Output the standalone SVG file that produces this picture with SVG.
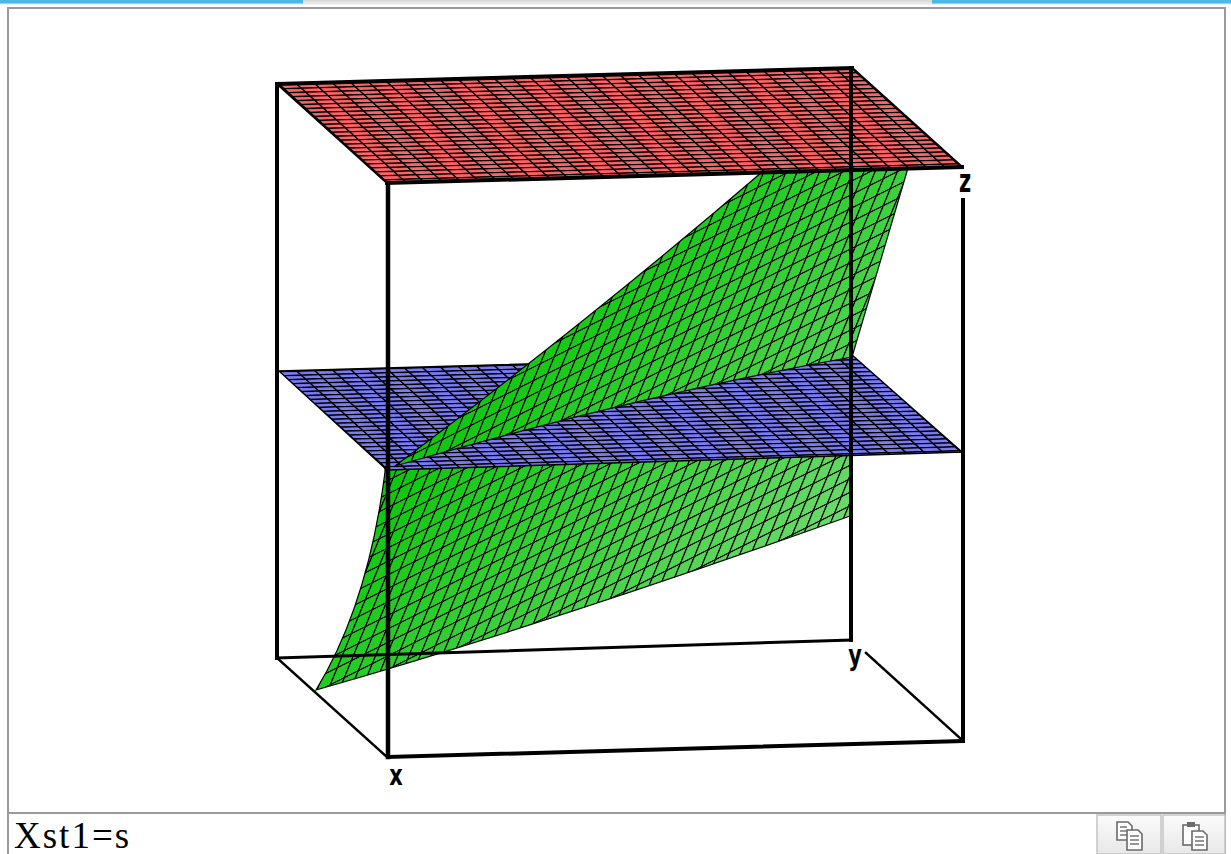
<svg xmlns="http://www.w3.org/2000/svg" width="1231" height="854" viewBox="0 0 1231 854">
<style>
.edge{stroke:#000;stroke-linecap:square;fill:none}
.lbl{font-family:"DejaVu Sans",sans-serif;font-size:22px;font-weight:bold;fill:#000}
.icon{fill:#fff;stroke:#6a6a6a;stroke-width:1.6}
.iline{stroke:#6a6a6a;stroke-width:1.4}
</style>
<defs>
<linearGradient id="topbar" x1="0" y1="0" x2="0" y2="1">
<stop offset="0" stop-color="#d6d6d6"/><stop offset="1" stop-color="#f4f4f4"/>
</linearGradient>
<linearGradient id="btn" x1="0" y1="0" x2="0" y2="1">
<stop offset="0" stop-color="#fbfbfb"/><stop offset="1" stop-color="#e8e8e8"/>
</linearGradient>
<linearGradient id="greenGrad" gradientUnits="userSpaceOnUse" x1="480" y1="300" x2="820" y2="600">
<stop offset="0" stop-color="#00c400"/><stop offset="0.45" stop-color="#33cf33"/><stop offset="1" stop-color="#74dc74"/>
</linearGradient>
<pattern id="redGrid" patternUnits="userSpaceOnUse" width="1" height="1" patternTransform="matrix(17.97,-0.5,4.4,3.96,277,84)">
<rect x="0" y="0" width="1" height="1" fill="#000"/>
<rect x="0.12" y="0.36" width="0.88" height="0.64" fill="#ff6464"/>
</pattern>
<pattern id="blueGrid" patternUnits="userSpaceOnUse" width="1" height="1" patternTransform="matrix(17.97,-0.5,4.4,3.96,277,371)">
<rect x="0" y="0" width="1" height="1" fill="#000"/>
<rect x="0.12" y="0.36" width="0.88" height="0.64" fill="#7b7bf6"/>
</pattern>
<pattern id="greenMesh" patternUnits="userSpaceOnUse" width="1" height="1" patternTransform="matrix(14,-7,7,-17,0,0)">
<rect x="0" y="0" width="0.13" height="1" fill="#000"/>
<rect x="0" y="0" width="1" height="0.1" fill="#000"/>
</pattern>
</defs>

<rect x="0" y="0" width="1231" height="854" fill="#fff"/>
<rect x="0" y="0" width="1231" height="5" fill="url(#topbar)"/>
<rect x="0" y="0" width="303" height="3.5" fill="#4bb8e6"/>
<rect x="932" y="0" width="299" height="3.5" fill="#4bb8e6"/>
<rect x="8" y="8" width="1217" height="805" fill="#fff" stroke="#9a9a9a" stroke-width="2"/>
<line x1="8" y1="813" x2="8" y2="854" stroke="#9a9a9a" stroke-width="2"/>
<line x1="1225" y1="813" x2="1225" y2="854" stroke="#9a9a9a" stroke-width="2"/>

<g id="status">
<text x="14" y="848" font-family="Liberation Serif, serif" font-size="37" letter-spacing="2">Xst1=s</text>
</g>

<g id="buttons">
<rect x="1097" y="815" width="64" height="39" fill="url(#btn)" stroke="#c4c4c4" stroke-width="1.5"/>
<rect x="1163" y="815" width="62" height="39" fill="url(#btn)" stroke="#c4c4c4" stroke-width="1.5"/>
<path class="icon" d="M1117,822 h11 l4,4 v14 h-15 z"/>
<line class="iline" x1="1120" y1="827" x2="1127" y2="827"/>
<line class="iline" x1="1120" y1="831" x2="1128" y2="831"/>
<line class="iline" x1="1120" y1="835" x2="1128" y2="835"/>
<path class="icon" d="M1127,830 h11 l4,4 v16 h-15 z"/>
<line class="iline" x1="1130" y1="836" x2="1139" y2="836"/>
<line class="iline" x1="1130" y1="840" x2="1139" y2="840"/>
<line class="iline" x1="1130" y1="844" x2="1139" y2="844"/>
<rect class="icon" x="1183" y="825" width="16" height="20"/>
<rect x="1187" y="822" width="8" height="5" fill="#6a6a6a"/>
<path class="icon" d="M1192,831 h11 l4,4 v15 h-15 z"/>
<line class="iline" x1="1195" y1="837" x2="1204" y2="837"/>
<line class="iline" x1="1195" y1="841" x2="1204" y2="841"/>
<line class="iline" x1="1195" y1="845" x2="1204" y2="845"/>
</g>

<g id="green-lower">
<path d="M385,440 L385,472 Q368,605 316,690 Q560,620 850,516 L850,440 Z" fill="url(#greenGrad)"/>
<path d="M385,440 L385,472 Q368,605 316,690 Q560,620 850,516 L850,440 Z" fill="url(#greenMesh)" stroke="#000" stroke-width="1.2"/>
</g>
<g id="blue-plane">
<polygon points="279,371 852,355 962,452 387,470" fill="url(#blueGrid)" stroke="#000" stroke-width="1.5"/>
</g>
<g id="green-upper">
<path d="M395,466 Q590,320 762,172 L908,168 L852,357 Q640,395 395,466 Z" fill="url(#greenGrad)"/>
<path d="M395,466 Q590,320 762,172 L908,168 L852,357 Q640,395 395,466 Z" fill="url(#greenMesh)" stroke="#000" stroke-width="1.2"/>
</g>
<g id="red-plane">
<polygon points="279,84 852,68 962,167 387,183" fill="url(#redGrid)" stroke="#000" stroke-width="1.5"/>
</g>

<g id="box">
<line class="edge" x1="277" y1="84" x2="277" y2="658" stroke-width="4"/>
<line class="edge" x1="388" y1="183" x2="388" y2="757" stroke-width="4.5"/>
<line class="edge" x1="851" y1="68" x2="851" y2="640" stroke-width="4"/>
<line class="edge" x1="963" y1="200" x2="963" y2="741" stroke-width="4"/>
<line class="edge" x1="277" y1="84" x2="852" y2="68" stroke-width="4"/>
<line class="edge" x1="387" y1="183" x2="962" y2="167" stroke-width="4"/>
<line class="edge" x1="277" y1="84" x2="387" y2="183" stroke-width="2"/>
<line class="edge" x1="852" y1="68" x2="962" y2="167" stroke-width="2.5"/>
<line class="edge" x1="277" y1="658" x2="851" y2="640" stroke-width="3"/>
<line class="edge" x1="277" y1="658" x2="387" y2="757" stroke-width="2.5"/>
<line class="edge" x1="388" y1="757" x2="962" y2="741" stroke-width="4"/>
<line class="edge" x1="866" y1="653" x2="961" y2="739" stroke-width="2.5"/>
</g>

<g id="labels">
<text class="lbl" transform="translate(965,192) scale(0.95,1.45)" text-anchor="middle">z</text>
<text class="lbl" transform="translate(855,665) scale(0.95,1.3)" text-anchor="middle">y</text>
<text class="lbl" transform="translate(396,785) scale(0.95,1.3)" text-anchor="middle">x</text>
</g>
</svg>
